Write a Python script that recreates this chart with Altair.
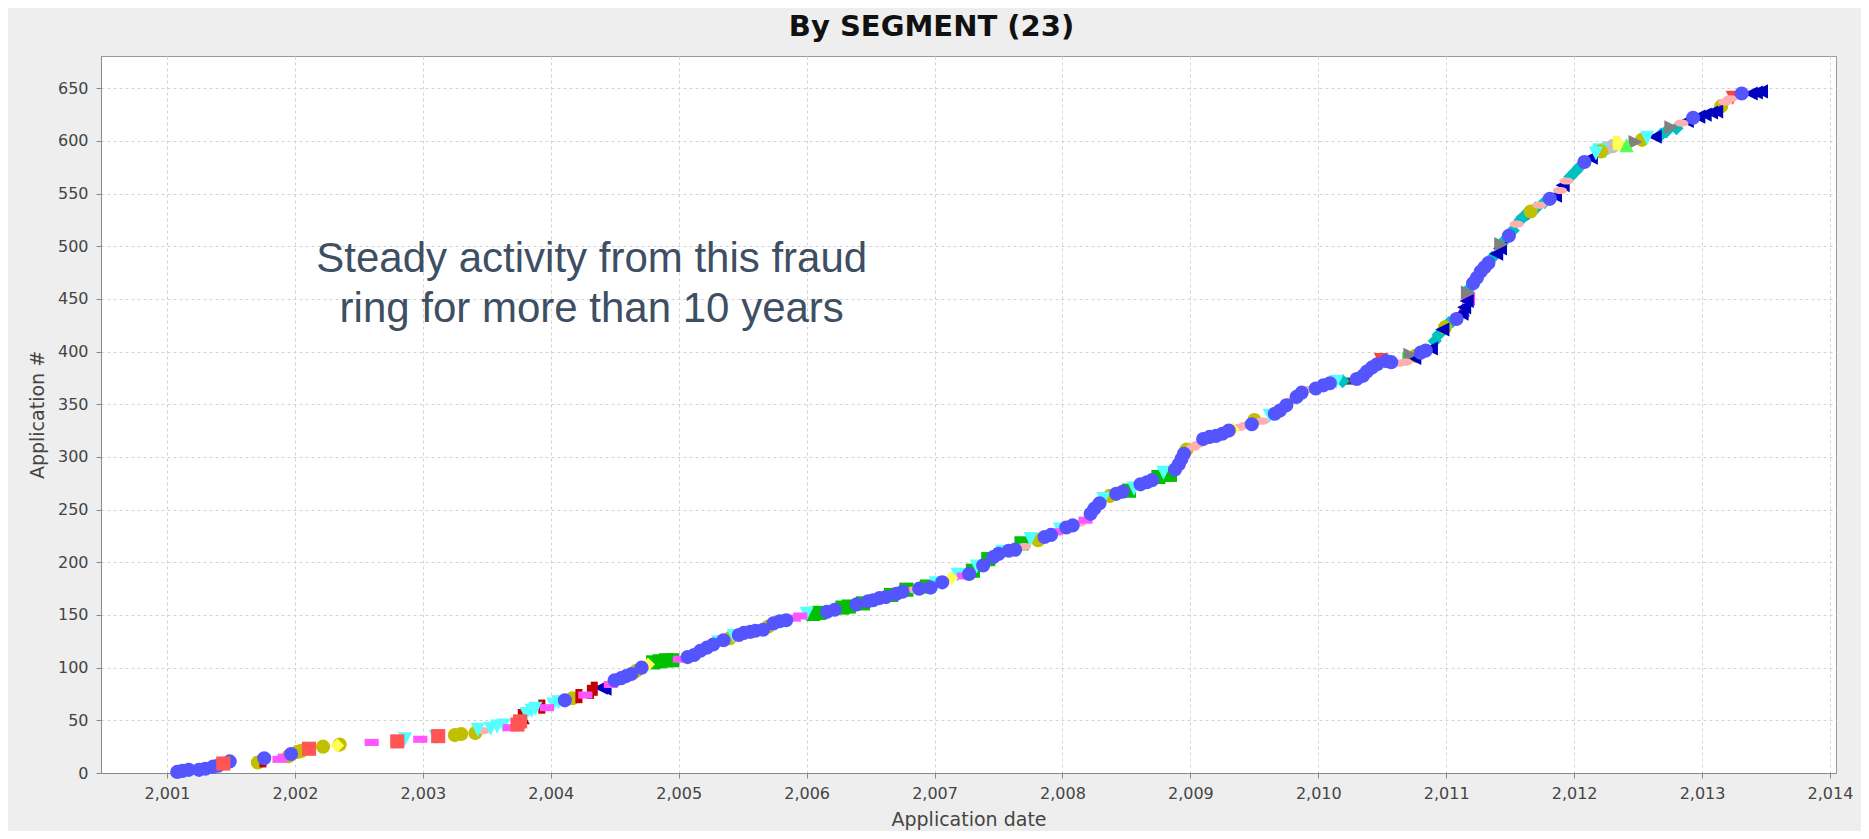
import altair as alt
import pandas as pd

# ---- data: (application date, application #, segment index)
years = [
    2001.08, 2001.12, 2001.17, 2001.25, 2001.30, 2001.36, 2001.40, 2001.44, 2001.49, 2001.71,
    2001.75, 2001.76, 2001.88, 2001.92, 2001.95, 2001.97, 2002.02, 2002.05, 2002.11, 2002.22,
    2002.33, 2002.35, 2002.60, 2002.80, 2002.86, 2002.98, 2003.10, 2003.12, 2003.25, 2003.30,
    2003.41, 2003.43, 2003.47, 2003.53, 2003.58, 2003.63, 2003.68, 2003.74, 2003.76, 2003.77,
    2003.78, 2003.81, 2003.85, 2003.88, 2003.93, 2003.97, 2004.02, 2004.06, 2004.11, 2004.17,
    2004.22, 2004.27, 2004.31, 2004.34, 2004.39, 2004.42, 2004.47, 2004.50, 2004.55, 2004.59,
    2004.63, 2004.67, 2004.71, 2004.76, 2004.80, 2004.85, 2004.90, 2004.95, 2005.01, 2005.07,
    2005.12, 2005.17, 2005.22, 2005.27, 2005.31, 2005.35, 2005.40, 2005.43, 2005.47, 2005.51,
    2005.56, 2005.60, 2005.66, 2005.70, 2005.74, 2005.79, 2005.84, 2005.90, 2005.95, 2006.00,
    2006.05, 2006.10, 2006.16, 2006.22, 2006.28, 2006.33, 2006.39, 2006.44, 2006.48, 2006.52,
    2006.57, 2006.62, 2006.66, 2006.70, 2006.75, 2006.78, 2006.84, 2006.88, 2006.94, 2006.97,
    2007.01, 2007.06, 2007.13, 2007.18, 2007.23, 2007.27, 2007.30, 2007.33, 2007.38, 2007.42,
    2007.46, 2007.50, 2007.53, 2007.58, 2007.63, 2007.68, 2007.70, 2007.75, 2007.81, 2007.86,
    2007.91, 2007.95, 2007.98, 2008.03, 2008.08, 2008.13, 2008.18, 2008.22, 2008.25, 2008.29,
    2008.32, 2008.37, 2008.42, 2008.47, 2008.52, 2008.56, 2008.61, 2008.66, 2008.70, 2008.75,
    2008.79, 2008.84, 2008.88, 2008.91, 2008.93, 2008.95, 2008.97, 2009.02, 2009.06, 2009.10,
    2009.15, 2009.20, 2009.25, 2009.30, 2009.33, 2009.38, 2009.43, 2009.48, 2009.50, 2009.56,
    2009.62, 2009.66, 2009.70, 2009.75, 2009.79, 2009.83, 2009.87, 2009.92, 2009.98, 2010.04,
    2010.09, 2010.14, 2010.19, 2010.25, 2010.30, 2010.35, 2010.38, 2010.42, 2010.46, 2010.49,
    2010.50, 2010.53, 2010.57, 2010.63, 2010.68, 2010.71, 2010.72, 2010.75, 2010.76, 2010.80,
    2010.84, 2010.88, 2010.91, 2010.94, 2010.97, 2010.99, 2011.02, 2011.05, 2011.08, 2011.12,
    2011.13, 2011.14, 2011.16, 2011.17, 2011.17, 2011.19, 2011.21, 2011.24, 2011.27, 2011.30,
    2011.33, 2011.36, 2011.39, 2011.42, 2011.43, 2011.46, 2011.49, 2011.52, 2011.55, 2011.58,
    2011.60, 2011.62, 2011.66, 2011.70, 2011.73, 2011.77, 2011.81, 2011.85, 2011.89, 2011.91,
    2011.94, 2011.97, 2012.01, 2012.04, 2012.08, 2012.13, 2012.17, 2012.20, 2012.21, 2012.25,
    2012.30, 2012.33, 2012.35, 2012.41, 2012.48, 2012.53, 2012.57, 2012.63, 2012.68, 2012.72,
    2012.76, 2012.80, 2012.84, 2012.88, 2012.93, 2012.97, 2013.02, 2013.07, 2013.11, 2013.15,
    2013.18, 2013.22, 2013.24, 2013.31, 2013.38, 2013.42, 2013.46,
]
apps = [
    1, 2, 3, 3, 4, 6, 7, 9, 11, 10,
    12, 14, 13, 15, 16, 18, 20, 21, 23, 25,
    26, 27, 29, 30, 32, 32, 34, 35, 36, 37,
    38, 41, 40, 42, 44, 45, 43, 46, 49, 54,
    53, 56, 59, 61, 63, 62, 65, 67, 69, 71,
    73, 74, 77, 80, 81, 80, 84, 88, 90, 92,
    94, 97, 100, 103, 105, 106, 107, 107, 108, 110,
    112, 116, 119, 122, 124, 126, 128, 130, 131, 133,
    134, 135, 136, 139, 142, 144, 145, 147, 149, 151,
    151, 152, 153, 155, 157, 158, 160, 161, 163, 164,
    166, 167, 169, 170, 172, 174, 174, 175, 177, 176,
    180, 181, 185, 188, 187, 189, 192, 196, 197, 203,
    205, 208, 210, 211, 212, 218, 215, 222, 221, 224,
    226, 229, 231, 233, 235, 237, 240, 246, 251, 256,
    260, 263, 265, 267, 268, 270, 274, 276, 278, 281,
    285, 283, 288, 293, 298, 303, 307, 309, 312, 317,
    319, 320, 322, 325, 326, 328, 330, 331, 335, 334,
    339, 341, 344, 349, 353, 357, 361, 364, 365, 368,
    370, 371, 372, 372, 374, 377, 381, 385, 388, 392,
    390, 391, 390, 389, 390, 393, 397, 394, 396, 399,
    401, 403, 410, 416, 421, 423, 427, 429, 431, 436,
    440, 442, 448, 450, 456, 461, 465, 470, 476, 480,
    484, 489, 493, 498, 502, 506, 510, 515, 521, 525,
    527, 530, 533, 536, 539, 542, 545, 548, 553, 558,
    562, 566, 571, 575, 580, 584, 588, 591, 590, 593,
    595, 598, 597, 596, 599, 601, 603, 604, 606, 609,
    613, 612, 617, 619, 622, 623, 625, 627, 628, 633,
    637, 640, 641, 645, 645, 646, 647,
]
segments = [
    1, 1, 1, 1, 1, 1, 1, 0, 1, 11,
    8, 1, 4, 4, 11, 1, 11, 11, 0, 11,
    3, 11, 4, 0, 5, 4, 5, 0, 11, 11,
    11, 5, 6, 5, 5, 5, 4, 0, 0, 8,
    22, 5, 5, 5, 8, 4, 5, 5, 1, 11,
    8, 4, 8, 8, 9, 9, 4, 1, 1, 1,
    1, 11, 1, 3, 10, 10, 10, 10, 4, 1,
    1, 1, 1, 1, 5, 1, 11, 5, 1, 1,
    1, 1, 1, 11, 1, 1, 1, 4, 4, 5,
    10, 10, 1, 1, 10, 10, 1, 10, 1, 1,
    1, 1, 10, 1, 1, 10, 6, 1, 10, 1,
    5, 1, 3, 5, 4, 1, 10, 5, 1, 10,
    1, 1, 5, 1, 1, 10, 6, 5, 11, 1,
    1, 4, 5, 1, 1, 6, 4, 1, 1, 1,
    5, 11, 1, 1, 10, 5, 1, 1, 1, 10,
    5, 10, 1, 1, 1, 1, 11, 6, 6, 1,
    1, 1, 1, 1, 3, 6, 6, 1, 11, 6,
    5, 1, 1, 1, 6, 1, 1, 6, 1, 1,
    1, 5, 13, 14, 1, 1, 1, 1, 1, 15,
    15, 1, 1, 6, 6, 17, 7, 9, 11, 1,
    1, 9, 13, 13, 9, 11, 13, 13, 1, 9,
    12, 9, 9, 19, 7, 13, 1, 1, 1, 1,
    1, 13, 9, 9, 7, 13, 1, 13, 6, 13,
    16, 13, 11, 13, 6, 13, 1, 9, 6, 9,
    6, 13, 13, 13, 1, 9, 5, 20, 11, 21,
    21, 18, 3, 2, 7, 11, 5, 9, 13, 13,
    7, 13, 6, 9, 1, 9, 9, 9, 9, 11,
    6, 6, 15, 1, 9, 9, 9,
]

# annotation text (two lines) and where it sits in data units
note_lines = ["Steady activity from this fraud", "ring for more than 10 years"]
note_x = [2004.32, 2004.32]
note_y = [475.7, 428.2]

x_ticks = list(range(2001, 2015))
y_ticks = list(range(0, 651, 50))

# ---- JFreeChart default series look (23 segments)
seg_colors = [
    "#FF5555", "#5555FF", "#55FF55", "#FFFF55", "#FF55FF", "#55FFFF", "#FFAFAF", "#808080",
    "#C00000", "#0000C0", "#00C000", "#C0C000", "#C000C0", "#00C0C0", "#404040", "#FF4040",
    "#4040FF", "#40FF40", "#FFFF40", "#FF40FF", "#40FFFF", "#C0C0C0", "#800000",
]
SQ = "square"
CI = "circle"
TU = "M0,-1L1,1L-1,1Z"
DI = "diamond"
HR = "M-1,-0.5L1,-0.5L1,0.5L-1,0.5Z"
TD = "M-1,-1L1,-1L0,1Z"
HE = "M-1,0A1,0.5 0 1,0 1,0A1,0.5 0 1,0 -1,0Z"
TR = "M-1,-1L1,0L-1,1Z"
VR = "M-0.5,-1L0.5,-1L0.5,1L-0.5,1Z"
TL = "M1,-1L-1,0L1,1Z"
base_shapes = [SQ, CI, TU, DI, HR, TD, HE, TR, VR, TL]
seg_shapes = [base_shapes[i % 10] for i in range(23)]
seg_names = [f"Segment {i + 1:02d}" for i in range(23)]

df = pd.DataFrame({"date": years, "app": apps, "idx": segments})
df["segment"] = [seg_names[i] for i in df["idx"]]
# JFreeChart draws series in reverse order: series 0 ends on top
df = df.sort_values("idx", ascending=False, kind="stable")

notes = pd.DataFrame({"x": note_x, "y": note_y, "t": note_lines})

x_scale = alt.Scale(domain=[2000.484, 2014.047], nice=False, zero=False)
y_scale = alt.Scale(domain=[0, 680.6], nice=False, zero=False)

axis_common = dict(
    labelFont="DejaVu Sans", labelFontSize=16, labelColor="#444444",
    titleFont="DejaVu Sans", titleFontSize=19, titleFontWeight="normal", titleColor="#444444",
    tickSize=5, tickColor="#888888", domainColor="#888888",
    grid=True, gridColor="#D2D2D2", gridDash=[3, 3], gridWidth=1,
    labelOverlap=False, labelFlush=False,
)

points = alt.Chart(df).mark_point(filled=True, opacity=1, size=200, strokeWidth=0).encode(
    x=alt.X("date:Q", scale=x_scale,
            axis=alt.Axis(values=x_ticks, format=",d", title="Application date",
                          labelPadding=7, titlePadding=9, **axis_common)),
    y=alt.Y("app:Q", scale=y_scale,
            axis=alt.Axis(values=y_ticks, format="d", title="Application #",
                          labelPadding=8, titlePadding=10, **axis_common)),
    color=alt.Color("segment:N", scale=alt.Scale(domain=seg_names, range=seg_colors), legend=None),
    shape=alt.Shape("segment:N", scale=alt.Scale(domain=seg_names, range=seg_shapes), legend=None),
)

text = alt.Chart(notes).mark_text(
    font="Liberation Sans", fontSize=42, color="#3E4E63", align="center", baseline="alphabetic"
).encode(
    x=alt.X("x:Q", scale=x_scale),
    y=alt.Y("y:Q", scale=y_scale),
    text="t:N",
)

chart = alt.layer(points, text).properties(
    width=1735,
    height=717,
    padding={"left": 93, "top": 48, "right": 25, "bottom": 58},
    autosize=alt.AutoSizeParams(type="none"),
    background="#EEEEEE",
    title=alt.TitleParams(
        "By SEGMENT (23)", font="DejaVu Sans", fontSize=29, fontWeight="bold", color="#111111",
        anchor="middle", frame="group", dx=-37, offset=-9, baseline="alphabetic",
    ),
).configure_view(stroke="#999999", strokeWidth=1, fill="white")

chart.save("out.html", embed_options={"renderer": "svg", "actions": False})
